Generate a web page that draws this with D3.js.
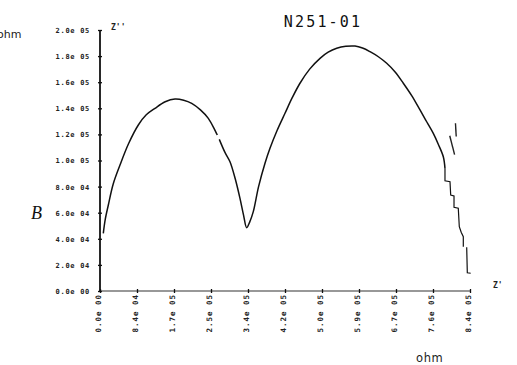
<!DOCTYPE html>
<html>
<head>
<meta charset="utf-8">
<script src="https://cdn.jsdelivr.net/npm/d3@7"></script>
<style>
  body { margin: 0; background: #fff; }
  svg { display: block; }
  .tick text { font-family: "DejaVu Sans Mono", monospace; font-weight: bold; fill: #222; }
</style>
</head>
<body>
<div id="chart"></div>
<script>
// tick values/labels as printed by the plotter
const xTicks = [0, 84000, 168000, 252000, 336000, 420000, 504000, 588000, 672000, 756000, 840000];
const xTickLabels = ["0.0e 00", "8.4e 04", "1.7e 05", "2.5e 05", "3.4e 05", "4.2e 05", "5.0e 05", "5.9e 05", "6.7e 05", "7.6e 05", "8.4e 05"];
const yTicks = [0, 20000, 40000, 60000, 80000, 100000, 120000, 140000, 160000, 180000, 200000];
const yTickLabels = ["0.0e 00", "2.0e 04", "4.0e 04", "6.0e 04", "8.0e 04", "1.0e 05", "1.2e 05", "1.4e 05", "1.6e 05", "1.8e 05", "2.0e 05"];

const arcA = [
  [7500, 44200], [12000, 55000], [18800, 65700], [30000, 82000], [45400, 96500], [65000, 113000],
  [87000, 127200], [105000, 135000], [124900, 140000], [148000, 145000], [170300, 147100],
  [190000, 146200], [208200, 143800], [228000, 138800], [245900, 132300], [266300, 119500]
];
const arcB = [
  [270800, 116200], [284000, 106000], [295100, 99100], [307000, 86000], [317800, 71000],
  [326000, 58000], [333000, 48500], [340000, 53000], [348000, 60800], [360000, 80000],
  [374600, 97900], [385900, 109300], [402000, 123000], [420000, 136200], [437000, 148500],
  [454000, 159200], [476000, 170000], [499500, 178300], [518000, 183000], [537400, 186000],
  [558000, 187500], [578900, 187700], [596000, 186200], [613000, 183400], [632000, 179500],
  [650900, 174500], [670000, 167800], [688600, 159200], [708000, 149500], [726500, 138700],
  [742000, 129500], [756700, 120800], [768000, 112500], [779400, 102900], [783200, 94000]
];
const tail = [
  [783200, 94000], [783200, 84500], [794600, 83800], [796200, 73600], [803700, 72800],
  [803700, 64100], [813400, 63400], [815700, 49300], [820000, 45000], [824800, 41600], [824800, 33900]
];
const tail2 = [
  [832500, 33500], [833900, 14000], [841600, 13600]
];
// stray pen marks near the tail
const marks = [
  [[807000, 128500], [808700, 118400]],
  [[794000, 119000], [805000, 104500]]
];

const width = 517, height = 365;
const svg = d3.select("#chart").append("svg")
  .attr("width", width)
  .attr("height", height);

const x = d3.scaleLinear().domain([0, 840000]).range([100, 470]);
const y = d3.scaleLinear().domain([0, 200000]).range([291, 30]);

// y axis
const yAxis = svg.append("g")
  .attr("transform", `translate(${x(0)},0)`)
  .call(d3.axisLeft(y).tickValues(yTicks).tickSize(2).tickPadding(8)
    .tickFormat((d, i) => yTickLabels[i]));
yAxis.select(".domain").attr("stroke", "#111").attr("stroke-width", 1.8).attr("d", `M0,${y(200000)}V${y(0)}`);
yAxis.selectAll(".tick line").attr("x1", -2).attr("x2", 2).attr("stroke", "#111").attr("stroke-width", 1.3);
yAxis.selectAll(".tick text")
  .attr("dy", "0.35em")
  .attr("font-size", 7)
  .attr("letter-spacing", 0.7);

// x axis
const xAxis = svg.append("g")
  .attr("transform", `translate(0,${y(0)})`)
  .call(d3.axisBottom(x).tickValues(xTicks).tickSize(2)
    .tickFormat((d, i) => xTickLabels[i]));
xAxis.select(".domain").attr("stroke", "#333").attr("stroke-width", 1.2).attr("d", `M${x(0)},0H${x(840000)}`);
xAxis.selectAll(".tick line").attr("y1", -2).attr("y2", 2).attr("stroke", "#111").attr("stroke-width", 1.3);
xAxis.selectAll(".tick text")
  .attr("text-anchor", "end")
  .attr("transform", "rotate(-90)")
  .attr("font-size", 7.5)
  .attr("letter-spacing", 1)
  .attr("x", -3)
  .attr("y", -1.5)
  .attr("dy", "0.3em");

// curve
const line = d3.line().x(d => x(d[0])).y(d => y(d[1]));
const smooth = d3.line().x(d => x(d[0])).y(d => y(d[1])).curve(d3.curveCatmullRom);
svg.append("g")
  .attr("fill", "none")
  .attr("stroke", "#111")
  .attr("stroke-width", 1.5)
  .attr("stroke-linejoin", "round")
  .selectAll("path")
  .data([arcA, arcB])
  .join("path")
  .attr("d", smooth);
svg.append("g")
  .attr("fill", "none")
  .attr("stroke", "#111")
  .attr("stroke-width", 1.2)
  .selectAll("path")
  .data([tail, tail2])
  .join("path")
  .attr("d", line);
svg.append("g")
  .attr("fill", "none")
  .attr("stroke", "#222")
  .attr("stroke-width", 1.4)
  .selectAll("path")
  .data(marks)
  .join("path")
  .attr("d", line);

// labels
svg.append("text")
  .attr("x", 323).attr("y", 27)
  .attr("text-anchor", "middle")
  .attr("font-family", "DejaVu Sans Mono, monospace")
  .attr("font-size", 15)
  .attr("letter-spacing", 2.2)
  .attr("fill", "#111")
  .text("N251-01");

svg.append("text")
  .attr("x", x(0) + 11).attr("y", 30)
  .attr("font-family", "DejaVu Sans Mono, monospace")
  .attr("font-weight", "bold")
  .attr("font-size", 8)
  .attr("fill", "#222")
  .text("Z''");

svg.append("text")
  .attr("x", 493).attr("y", 288)
  .attr("font-family", "DejaVu Sans Mono, monospace")
  .attr("font-weight", "bold")
  .attr("font-size", 8)
  .attr("fill", "#222")
  .text("Z'");

svg.append("text")
  .attr("x", 416).attr("y", 362)
  .attr("font-family", "DejaVu Sans, sans-serif")
  .attr("font-size", 11.5)
  .attr("letter-spacing", 0.6)
  .attr("fill", "#222")
  .text("ohm");

svg.append("text")
  .attr("x", -3).attr("y", 38)
  .attr("font-family", "DejaVu Sans, sans-serif")
  .attr("font-size", 11)
  .attr("fill", "#222")
  .text("ohm");

svg.append("text")
  .attr("x", 31).attr("y", 219)
  .attr("font-family", "Liberation Serif, serif")
  .attr("font-style", "italic")
  .attr("font-size", 18)
  .attr("fill", "#111")
  .text("B");
</script>
</body>
</html>
